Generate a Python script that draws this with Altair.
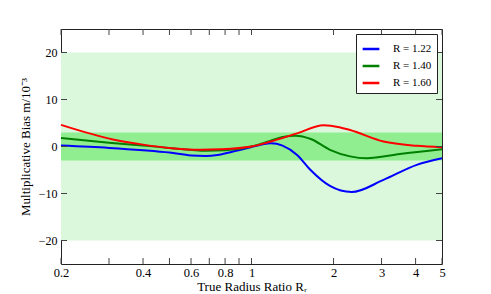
import altair as alt
import pandas as pd

# ---- data ----
labels = ["R = 1.22", "R = 1.40", "R = 1.60"]
colors = ["#0000ff", "#008000", "#ff0000"]

blue_x = [0.2, 0.3, 0.4, 0.5, 0.6, 0.68, 0.75, 0.85, 1.0, 1.1, 1.18, 1.3, 1.47, 1.64, 1.94, 2.33, 3.05, 4.04, 5.0]
blue_y = [0.2, -0.3, -0.8, -1.3, -1.9, -2.0, -1.8, -1.1, -0.1, 0.5, 0.7, 0.2, -1.8, -4.9, -8.4, -9.7, -7.1, -3.9, -2.5]
green_x = [0.2, 0.3, 0.4, 0.5, 0.68, 0.8, 1.0, 1.17, 1.3, 1.45, 1.65, 1.94, 2.3, 2.65, 3.5, 5.0]
green_y = [1.8, 0.8, 0.2, -0.3, -0.9, -0.8, 0.0, 1.2, 2.0, 2.3, 1.6, -0.7, -2.1, -2.5, -1.6, -0.6]
red_x = [0.2, 0.31, 0.4, 0.51, 0.65, 0.77, 1.0, 1.17, 1.47, 1.84, 2.1, 2.3, 3.05, 4.04, 5.0]
red_y = [4.6, 1.5, 0.4, -0.35, -0.7, -0.6, 0.0, 1.0, 2.8, 4.5, 4.1, 3.5, 1.05, 0.15, -0.15]

band_low = [-20, -3]
band_high = [20, 3]
band_colors = ["#dcf8dc", "#90ee90"]

x_ticks = [0.2, 0.3, 0.4, 0.5, 0.6, 0.7, 0.8, 0.9, 1, 2, 3, 4, 5]
x_labeled = [0.2, 0.4, 0.6, 0.8, 1, 2, 3, 4, 5]
y_ticks = [-20, -10, 0, 10, 20]
x_domain = [0.2, 5]
y_domain = [-25, 25]

W, H = 381, 235
FONT = "Liberation Serif"

rows = []
for lab, xs, ys in zip(labels, [blue_x, green_x, red_x], [blue_y, green_y, red_y]):
    for i, (a, b) in enumerate(zip(xs, ys)):
        rows.append({"series": lab, "x": a, "y": b, "order": i})
lines_df = pd.DataFrame(rows)

bands_df = pd.DataFrame({
    "lo": band_low, "hi": band_high, "c": band_colors,
    "x0": [x_domain[0]] * 2, "x1": [x_domain[1]] * 2,
})

xs = alt.Scale(type="log", domain=x_domain, nice=False)
ys = alt.Scale(domain=y_domain, nice=False)

label_expr = "indexof([" + ",".join(str(v) for v in x_labeled) + "], datum.value) >= 0 ? datum.value : ''"

bands = alt.Chart(bands_df).mark_rect().encode(
    x=alt.X("x0:Q", scale=xs, axis=alt.Axis(
        values=x_ticks, labelExpr=label_expr, tickSize=0, domain=False, grid=False,
        title="True Radius Ratio Rᵣ", labelFontSize=12.5, titleFontSize=13,
        titleFontWeight="normal", labelPadding=2, titlePadding=2, labelFlush=False)),
    x2="x1:Q",
    y=alt.Y("lo:Q", scale=ys, axis=alt.Axis(
        values=y_ticks, tickSize=0, domain=False, grid=False,
        title="Multiplicative Bias m/10⁻³", labelFontSize=12, titleFontSize=13,
        titleFontWeight="normal", labelPadding=4, titlePadding=6)),
    y2="hi:Q",
    color=alt.Color("c:N", scale=None),
)

lines = alt.Chart(lines_df).mark_line(strokeWidth=2, interpolate="monotone").encode(
    x=alt.X("x:Q", scale=xs),
    y=alt.Y("y:Q", scale=ys),
    order="order:Q",
    color=alt.Color("series:N", scale=alt.Scale(domain=labels, range=colors),
                    legend=alt.Legend(title=None, orient="top-right", offset=5)),
)

xt_df = pd.DataFrame({"v": x_ticks})
yt_df = pd.DataFrame({"v": y_ticks})
tick_color = "#444444"
xt_bot = alt.Chart(xt_df).mark_rule(color=tick_color).encode(
    x=alt.X("v:Q", scale=xs), y=alt.value(H), y2=alt.value(H - 6))
xt_top = alt.Chart(xt_df).mark_rule(color=tick_color).encode(
    x=alt.X("v:Q", scale=xs), y=alt.value(0), y2=alt.value(6))
yt_left = alt.Chart(yt_df).mark_rule(color=tick_color).encode(
    y=alt.Y("v:Q", scale=ys), x=alt.value(0), x2=alt.value(6))
yt_right = alt.Chart(yt_df).mark_rule(color=tick_color).encode(
    y=alt.Y("v:Q", scale=ys), x=alt.value(W), x2=alt.value(W - 6))

chart = alt.layer(bands, lines, xt_bot, xt_top, yt_left, yt_right).properties(
    width=W, height=H,
    autosize=alt.AutoSizeParams(type="none"),
    padding={"left": 53, "top": 21, "right": 30, "bottom": 30},
).configure_view(
    stroke="#222222", strokeWidth=1
).configure_axis(
    labelFont=FONT, titleFont=FONT, labelColor="black", titleColor="black"
).configure_legend(
    labelFont=FONT, labelFontSize=11, labelColor="black", labelFontWeight="normal",
    symbolType="stroke", symbolStrokeWidth=2.5, symbolSize=280,
    fillColor="white", strokeColor="#222222", padding=5, rowPadding=2,
    labelOffset=12, cornerRadius=0, labelLimit=200,
)

chart.save("out.html", embed_options={"renderer": "svg", "actions": False})
